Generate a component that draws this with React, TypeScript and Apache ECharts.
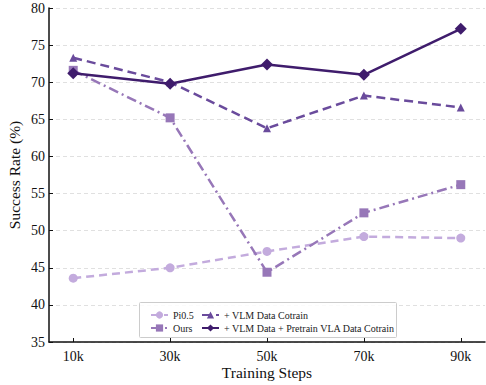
import React, { useEffect, useRef } from "react";
import * as echarts from "echarts";

const steps = [10, 30, 50, 70, 90];
const pi05 = [43.6, 45.0, 47.2, 49.2, 49.0];
const ours = [71.6, 65.2, 44.4, 52.4, 56.2];
const vlmCotrain = [73.3, 70.0, 63.8, 68.2, 66.6];
const vlmPretrain = [71.2, 69.8, 72.4, 71.0, 77.2];
const yTicks = [35, 40, 45, 50, 55, 60, 65, 70, 75, 80];

const names = {
  pi: "Pi0.5",
  ours: "Ours",
  vlm: "+ VLM Data Cotrain",
  pre: "+ VLM Data + Pretrain VLA Data Cotrain",
};

const FONT = "'Liberation Serif', 'DejaVu Serif', serif";

const pair = (ys: number[]) => steps.map((s, i) => [s, ys[i]]);

export default function App() {
  const ref = useRef<HTMLDivElement>(null);
  useEffect(() => {
    if (!ref.current) return;
    const chart = echarts.init(ref.current, undefined, { renderer: "svg" });
    const mk = (
      name: string,
      data: number[],
      color: string,
      symbol: string,
      size: number,
      type: any,
      z: number
    ) => ({
      name,
      type: "line",
      data: pair(data),
      symbol,
      symbolSize: size,
      z,
      itemStyle: { color },
      lineStyle: { color, width: 2.5, type },
    });
    const legendText = { fontFamily: FONT, fontSize: 10, color: "#222" };
    chart.setOption({
      animation: false,
      backgroundColor: "#ffffff",
      textStyle: { fontFamily: FONT },
      grid: { left: 49, right: 1, top: 8, bottom: 43, outerBoundsMode: "none", containLabel: false },
      legend: [
        {
          orient: "vertical",
          left: 145,
          top: 305,
          itemWidth: 17,
          itemHeight: 9,
          itemGap: 3,
          z: 10,
          data: [names.pi, names.ours],
          textStyle: legendText,
        },
        {
          orient: "vertical",
          left: 196,
          top: 305,
          itemWidth: 17,
          itemHeight: 9,
          itemGap: 3,
          z: 10,
          data: [names.vlm, names.pre],
          textStyle: legendText,
        },
      ],
      graphic: [
        {
          type: "rect",
          left: 139,
          top: 302,
          z: 1,
          shape: { width: 257, height: 35, r: 1 },
          style: { fill: "rgba(255,255,255,0.85)", stroke: "#cccccc", lineWidth: 1 },
        },
      ],
      xAxis: {
        type: "value",
        min: 5,
        max: 95,
        name: "Training Steps",
        nameLocation: "middle",
        nameGap: 22,
        nameMoveOverlap: false,
        nameTextStyle: { fontFamily: FONT, fontSize: 15.5, color: "#111" },
        axisLine: { show: true, lineStyle: { color: "#111", width: 1.5 } },
        axisTick: {
          show: true,
          inside: true,
          length: 4,
          customValues: steps,
          lineStyle: { color: "#111" },
        },
        axisLabel: {
          customValues: steps,
          formatter: (v: number) => `${v}k`,
          fontFamily: FONT,
          fontSize: 14,
          color: "#111",
          margin: 7,
        },
        splitLine: { show: false },
      },
      yAxis: {
        type: "value",
        min: 35,
        max: 80,
        interval: 5,
        name: "Success Rate (%)",
        nameLocation: "middle",
        nameGap: 27,
        nameMoveOverlap: false,
        nameTextStyle: { fontFamily: FONT, fontSize: 15.5, color: "#111" },
        axisLine: { show: true, lineStyle: { color: "#111", width: 1.5 } },
        axisTick: { show: true, inside: true, length: 4, lineStyle: { color: "#111" } },
        axisLabel: {
          fontFamily: FONT,
          fontSize: 14,
          color: "#111",
          margin: 4,
          formatter: (v: number) => (yTicks.includes(v) ? String(v) : ""),
        },
        splitLine: { show: true, lineStyle: { color: "#e0e0e0", type: [4, 3], width: 1 } },
      },
      series: [
        mk(names.pi, pi05, "#c3abdd", "circle", 9, [8, 5], 2),
        mk(names.ours, ours, "#9777b8", "rect", 9, [10, 4, 2, 4], 3),
        mk(names.vlm, vlmCotrain, "#6a4b9c", "triangle", 8, [9, 5], 4),
        mk(names.pre, vlmPretrain, "#3f1c6c", "diamond", 12, "solid", 5),
      ],
    });
    return () => chart.dispose();
  }, []);
  return (
    <div
      ref={ref}
      style={{ position: "fixed", left: 0, top: 0, width: 486, height: 385 }}
    />
  );
}
